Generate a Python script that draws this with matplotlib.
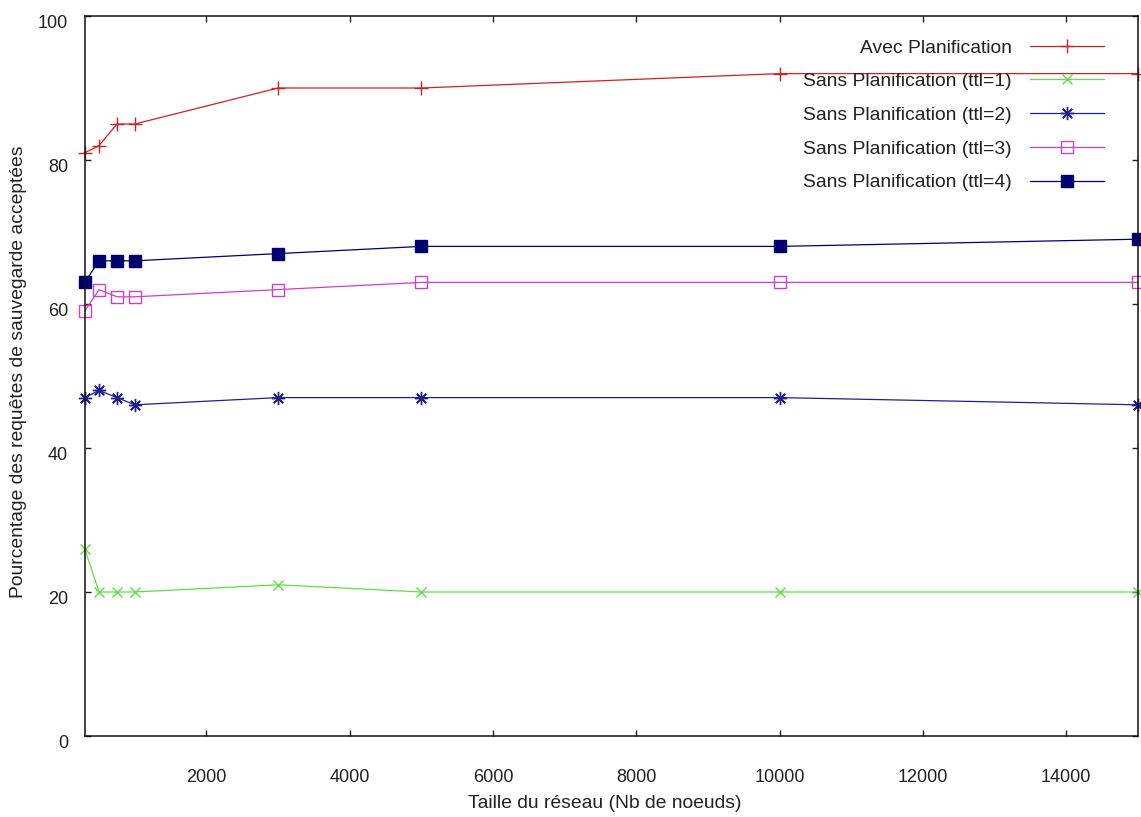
import matplotlib
matplotlib.use("Agg")
import matplotlib.pyplot as plt
from matplotlib.transforms import ScaledTranslation

x = [300, 500, 750, 1000, 3000, 5000, 10000, 15000]
avec = [81, 82, 85, 85, 90, 90, 92, 92]
ttl1 = [26, 20, 20, 20, 21, 20, 20, 20]
ttl2 = [47, 48, 47, 46, 47, 47, 47, 46]
ttl3 = [59, 62, 61, 61, 62, 63, 63, 63]
ttl4 = [63, 66, 66, 66, 67, 68, 68, 69]
labels = ["Avec Planification", "Sans Planification (ttl=1)", "Sans Planification (ttl=2)",
          "Sans Planification (ttl=3)", "Sans Planification (ttl=4)"]
xticks = [2000, 4000, 6000, 8000, 10000, 12000, 14000]
yticks = [0, 20, 40, 60, 80, 100]

plt.rcParams['font.family'] = ['Liberation Sans', 'DejaVu Sans']
FS = 13.9
FT = 13
W, H = 1141, 817
fig = plt.figure(figsize=(W / 100, H / 100), dpi=100)
L, R, T, B = 84.7, 1137.7, 16, 736
ax = fig.add_axes([L / W, (H - B) / H, (R - L) / W, (B - T) / H])

styles = [
    dict(color='#d42020', marker='+', markersize=9.5, mfc='none'),
    dict(color='#5ee044', marker='x', markersize=7.5, mfc='none'),
    dict(color='#202090', marker=(8, 2, 0), markersize=9.5, mfc='none'),
    dict(color='#cc40cc', marker='s', markersize=8, mfc='none'),
    dict(color='#000070', marker='s', markersize=9, mfc='#000070'),
]
series = [avec, ttl1, ttl2, ttl3, ttl4]
for ys, lab, st in zip(series, labels, styles):
    ax.plot(x, ys, label=lab, linewidth=0.9, markeredgewidth=1.0, clip_on=False, **st)

ax.set_xlim(300, 15000)
ax.set_ylim(0, 100)
ax.set_xticks(xticks)
ax.set_yticks(yticks)
ax.tick_params(direction='in', length=4.5, width=1, top=True, right=True, labelsize=FT, colors='#222222')
ax.tick_params(axis='x', pad=24)
ax.tick_params(axis='y', pad=12)
off = ScaledTranslation(0, -5 / 100, fig.dpi_scale_trans)
for lab in ax.get_yticklabels():
    lab.set_transform(lab.get_transform() + off)
for s in ax.spines.values():
    s.set_linewidth(1.1)
    s.set_color('#111111')

ax.set_xlabel("Taille du réseau (Nb de noeuds)", fontsize=FS, color='#222222')
ax.xaxis.set_label_coords((605 - L) / (R - L), (B - 804) / (B - T))
ax.xaxis.label.set_va('center')
ax.set_ylabel("Pourcentage des requêtes de sauvegarde acceptées", fontsize=FS, color='#222222')
ax.yaxis.set_label_coords((19 - L) / (R - L), (B - 372) / (B - T))
ax.yaxis.label.set_va('center')

leg = ax.legend(loc='upper right', bbox_to_anchor=((1104 - L) / (R - L), (B - 39) / (B - T)),
                frameon=False, markerfirst=False, fontsize=FS, handlelength=3.85,
                labelspacing=0.84, handletextpad=0.93, borderpad=0, borderaxespad=0)
for t in leg.get_texts():
    t.set_color('#222222')
vp = leg._legend_box.get_children()[1]
for c in vp.get_children():
    c.align = 'right'
leg._legend_box.align = 'right'

fig.savefig("out.png", dpi=100)
